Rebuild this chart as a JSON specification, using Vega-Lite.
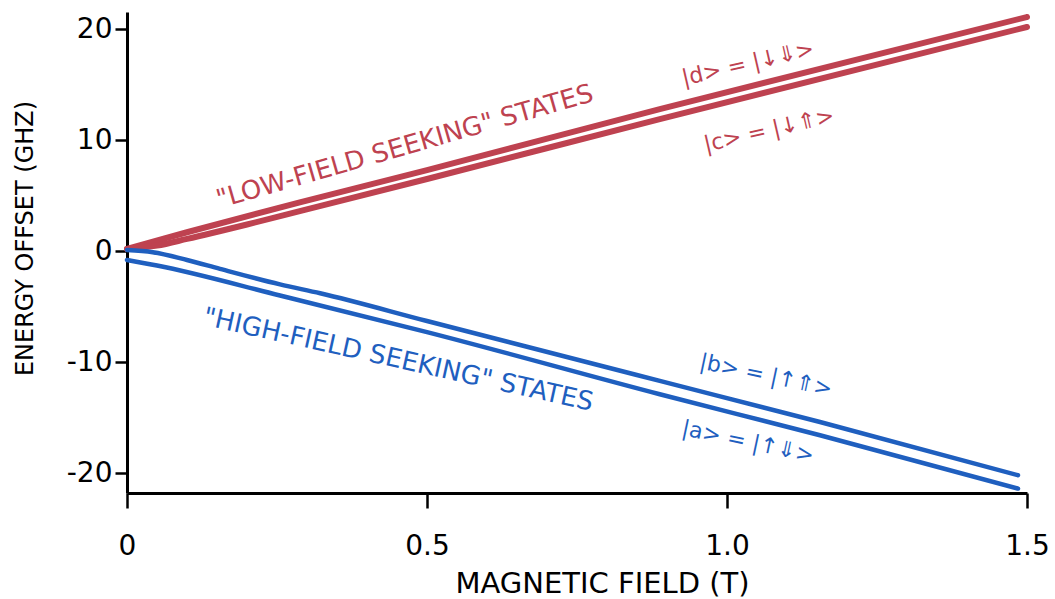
{
  "$schema": "https://vega.github.io/schema/vega-lite/v6.json",
  "width": 900,
  "height": 481,
  "autosize": {"type": "none"},
  "padding": {"left": 127, "top": 12, "right": 28, "bottom": 106},
  "background": "white",
  "config": {"view": {"stroke": null}, "font": "DejaVu Sans"},
  "datasets": {
    "curves": [
      {"state": "d", "B": 0, "E": 0.2},
      {"state": "d", "B": 0.1, "E": 1.7},
      {"state": "d", "B": 0.288, "E": 4.4},
      {"state": "d", "B": 0.5, "E": 7.3},
      {"state": "d", "B": 0.888, "E": 12.8},
      {"state": "d", "B": 1.5, "E": 21.1},
      {"state": "c", "B": 0, "E": 0.2},
      {"state": "c", "B": 0.05, "E": 0.5},
      {"state": "c", "B": 0.1, "E": 1.1},
      {"state": "c", "B": 0.2, "E": 2.4},
      {"state": "c", "B": 0.288, "E": 3.6},
      {"state": "c", "B": 0.5, "E": 6.5},
      {"state": "c", "B": 0.888, "E": 11.9},
      {"state": "c", "B": 1.5, "E": 20.2},
      {"state": "b", "B": 0, "E": 0.1},
      {"state": "b", "B": 0.043, "E": -0.1},
      {"state": "b", "B": 0.1, "E": -0.8},
      {"state": "b", "B": 0.155, "E": -1.6},
      {"state": "b", "B": 0.255, "E": -3.0},
      {"state": "b", "B": 0.322, "E": -3.8},
      {"state": "b", "B": 0.5, "E": -6.3},
      {"state": "b", "B": 0.888, "E": -11.7},
      {"state": "b", "B": 1.155, "E": -15.4},
      {"state": "b", "B": 1.485, "E": -20.2},
      {"state": "a", "B": 0, "E": -0.8},
      {"state": "a", "B": 0.05, "E": -1.3},
      {"state": "a", "B": 0.255, "E": -4.0},
      {"state": "a", "B": 0.5, "E": -7.3},
      {"state": "a", "B": 0.888, "E": -12.9},
      {"state": "a", "B": 1.155, "E": -16.6},
      {"state": "a", "B": 1.485, "E": -21.4}
    ],
    "labels": [
      {"group": "low", "text": "\"LOW-FIELD SEEKING\" STATES", "B": 0.463, "E": 9.4},
      {"group": "high", "text": "\"HIGH-FIELD SEEKING\" STATES", "B": 0.452, "E": -9.8},
      {"group": "red", "text": "|d> = |↓⇓>", "B": 1.035, "E": 16.9},
      {"group": "red", "text": "|c> = |↓⇑>", "B": 1.07, "E": 10.9},
      {"group": "blue", "text": "|b> = |↑⇑>", "B": 1.065, "E": -11.2},
      {"group": "blue", "text": "|a> = |↑⇓>", "B": 1.035, "E": -17.2}
    ]
  },
  "encoding": {
    "x": {
      "field": "B",
      "type": "quantitative",
      "scale": {"domain": [0, 1.5], "nice": false, "zero": false},
      "axis": {
        "title": "MAGNETIC FIELD (T)",
        "values": [0, 0.5, 1, 1.5],
        "labelExpr": "datum.value == 0 ? '0' : format(datum.value, '.1f')",
        "grid": false,
        "labelFlush": false,
        "domainColor": "black",
        "domainWidth": 3,
        "tickColor": "black",
        "tickWidth": 2.5,
        "tickSize": 15,
        "labelFontSize": 28,
        "labelPadding": 24,
        "labelColor": "black",
        "titleFontSize": 29,
        "titleFontWeight": "normal",
        "titleColor": "black",
        "titleX": 475,
        "titleY": 90,
        "titleBaseline": "middle"
      }
    },
    "y": {
      "field": "E",
      "type": "quantitative",
      "scale": {"domain": [-21.8, 21.55], "nice": false, "zero": false},
      "axis": {
        "title": "ENERGY OFFSET (GHZ)",
        "values": [-20, -10, 0, 10, 20],
        "labelExpr": "datum.value + ''",
        "grid": false,
        "domainColor": "black",
        "domainWidth": 3,
        "tickColor": "black",
        "tickWidth": 2.5,
        "tickSize": 12,
        "labelFontSize": 28,
        "labelPadding": 3,
        "labelColor": "black",
        "titleFontSize": 24,
        "titleFontWeight": "normal",
        "titleColor": "black",
        "titleX": -102,
        "titleY": 226,
        "titleBaseline": "middle",
        "titleAlign": "center"
      }
    }
  },
  "layer": [
    {
      "data": {"name": "curves"},
      "transform": [{"filter": "datum.state == 'c' || datum.state == 'd'"}],
      "mark": {"type": "line", "color": "#BE4250", "strokeWidth": 6, "strokeCap": "round", "interpolate": "monotone"},
      "encoding": {"detail": {"field": "state", "type": "nominal"}}
    },
    {
      "data": {"name": "curves"},
      "transform": [{"filter": "datum.state == 'a' || datum.state == 'b'"}],
      "mark": {"type": "line", "color": "#1F5FBF", "strokeWidth": 4.5, "strokeCap": "round", "interpolate": "monotone"},
      "encoding": {"detail": {"field": "state", "type": "nominal"}}
    },
    {
      "data": {"name": "labels"},
      "transform": [{"filter": "datum.group == 'low'"}],
      "mark": {"type": "text", "color": "#BE4250", "fontSize": 26, "angle": -16, "align": "center", "baseline": "middle"},
      "encoding": {"text": {"field": "text"}}
    },
    {
      "data": {"name": "labels"},
      "transform": [{"filter": "datum.group == 'high'"}],
      "mark": {"type": "text", "color": "#1F5FBF", "fontSize": 26, "angle": 12.5, "align": "center", "baseline": "middle"},
      "encoding": {"text": {"field": "text"}}
    },
    {
      "data": {"name": "labels"},
      "transform": [{"filter": "datum.group == 'red'"}],
      "mark": {"type": "text", "color": "#BE4250", "fontSize": 22, "angle": -13, "align": "center", "baseline": "middle"},
      "encoding": {"text": {"field": "text"}}
    },
    {
      "data": {"name": "labels"},
      "transform": [{"filter": "datum.group == 'blue'"}],
      "mark": {"type": "text", "color": "#1F5FBF", "fontSize": 22, "angle": 12, "align": "center", "baseline": "middle"},
      "encoding": {"text": {"field": "text"}}
    }
  ]
}
